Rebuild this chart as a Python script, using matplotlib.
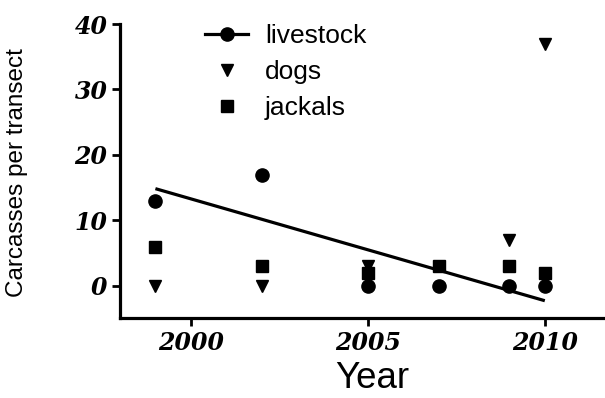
import matplotlib
matplotlib.use('Agg')
import matplotlib.pyplot as plt
import numpy as np
from matplotlib.lines import Line2D
from matplotlib.font_manager import FontProperties

# data
years = [1999, 2002, 2005, 2007, 2009, 2010]
livestock = [13, 17, 0, 0, 0, 0]
dogs = [0, 0, 3, None, 7, 37]
jackals = [6, 3, 2, 3, 3, 2]

x_ticks = [2000, 2005, 2010]
y_ticks = [0, 10, 20, 30, 40]

fig = plt.figure(figsize=(6.05, 3.98), dpi=100)
ax = fig.add_axes([120 / 605, 1 - 318 / 398, 1 - 120 / 605, (318 - 24) / 398])

# linear fit through livestock counts
slope, icpt = np.polyfit(years, livestock, 1)
fit_x = np.array([years[0], years[-1]])
ax.plot(fit_x, slope * fit_x + icpt, color='black', lw=2.3, solid_capstyle='butt', zorder=2)

ax.plot(years, livestock, 'o', color='black', ms=9.5, zorder=3)
dog_x = [y for y, d in zip(years, dogs) if d is not None]
dog_y = [d for d in dogs if d is not None]
ax.plot(dog_x, dog_y, 'v', color='black', ms=9, zorder=3)
ax.plot(years, jackals, 's', color='black', ms=9, zorder=4)

ax.set_xlim(1998, 2011.7)
ax.set_ylim(-4.9, 40)
ax.set_xticks(x_ticks)
ax.set_yticks(y_ticks)

for side in ['top', 'right']:
    ax.spines[side].set_visible(False)
for side in ['left', 'bottom']:
    ax.spines[side].set_linewidth(2.3)

ax.tick_params(direction='out', length=6, width=2, pad=3)
tick_font = FontProperties(family='DejaVu Serif', weight='bold', style='italic', size=17)
for lab in ax.get_xticklabels() + ax.get_yticklabels():
    lab.set_fontproperties(tick_font)

ax.set_ylabel('Carcasses per transect', family='Liberation Sans', fontsize=17.5)
ax.yaxis.set_label_coords(-(120 - 28) / 485, (318 - 173) / 294)
ax.set_xlabel('Year', family='Liberation Sans', fontsize=26.5, va='center')
ax.xaxis.set_label_coords((372 - 120) / 485, -(378 - 318) / 294)

handles = [
    Line2D([], [], color='black', lw=2.3, marker='o', ms=9.5),
    Line2D([], [], color='black', lw=0, marker='v', ms=9),
    Line2D([], [], color='black', lw=0, marker='s', ms=9),
]
fig.legend(handles, ['livestock', 'dogs', 'jackals'], loc='upper left',
           bbox_to_anchor=(205 / 605, 1 - 24 / 398), frameon=False,
           borderpad=0, borderaxespad=0, handlelength=1.63, handletextpad=0.65,
           labelspacing=0.45, prop=dict(family='Liberation Sans', size=19))

fig.savefig('out.png', dpi=100)
